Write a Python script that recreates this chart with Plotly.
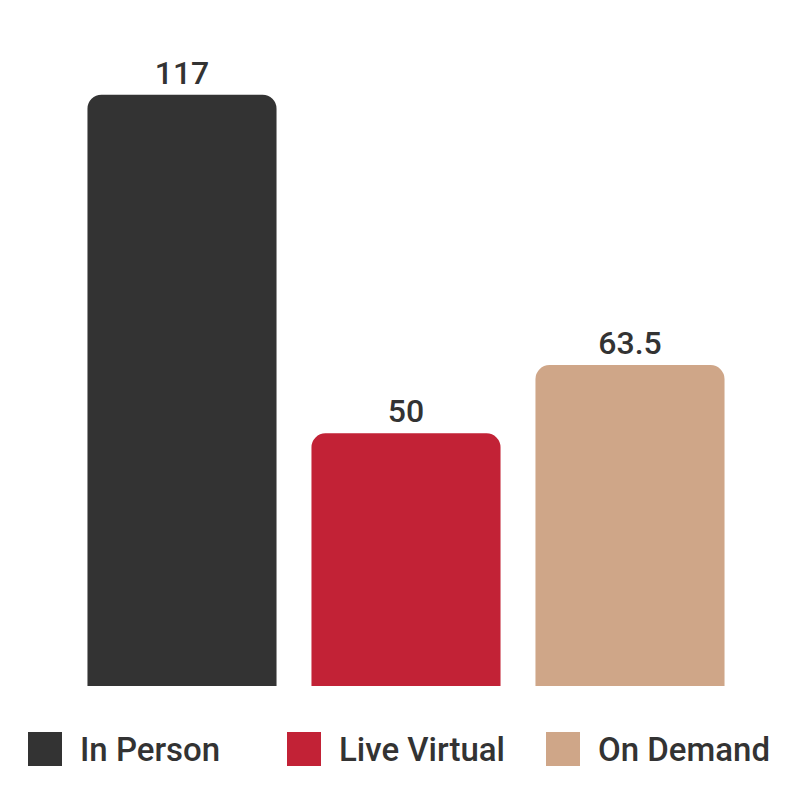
import plotly.graph_objects as go

categories = ["In Person", "Live Virtual", "On Demand"]
values = [117, 50, 63.5]
labels = ["117", "50", "63.5"]
colors = ["#333333", "#C22236", "#CFA688"]

fig = go.Figure()

for cat, val, lab, col in zip(categories, values, labels, colors):
    fig.add_trace(go.Bar(
        x=[cat], y=[val], name=cat,
        marker=dict(color=col, cornerradius=14, line=dict(width=0)),
        text=[lab], textposition="outside", cliponaxis=False,
        textfont=dict(family="Roboto", size=32, color="#333333", weight=500),
        showlegend=False,
    ))

# page body has an 8px margin, so margins are shifted to compensate
L, R, T, B = 62, 66, 21, 122
W, H = 800 - L - R, 800 - T - B
x_left, y_base = L + 8, 800 - B + 8   # screen position of plot area

# legend drawn by hand so the swatches can be big
sw_x = [28, 287, 546]
for i, (cat, col) in enumerate(zip(categories, colors)):
    fig.add_shape(type="rect", xref="paper", yref="paper",
                  x0=(sw_x[i] - x_left) / W, x1=(sw_x[i] + 34 - x_left) / W,
                  y0=(y_base - 766) / H, y1=(y_base - 732) / H,
                  fillcolor=col, line=dict(width=0))
    fig.add_annotation(xref="paper", yref="paper", x=(sw_x[i] + 50 - x_left) / W,
                       y=(y_base - 749) / H, text=cat, showarrow=False,
                       xanchor="left", yanchor="middle",
                       font=dict(family="Roboto", size=33, color="#333333", weight=500))

fig.update_layout(
    width=800, height=800,
    margin=dict(l=L, r=R, t=T, b=B),
    paper_bgcolor="white", plot_bgcolor="white",
    barmode="overlay", bargap=0.156,
    xaxis=dict(visible=False),
    yaxis=dict(visible=False, range=[0, 130]),
)

fig.write_html("out.html")
